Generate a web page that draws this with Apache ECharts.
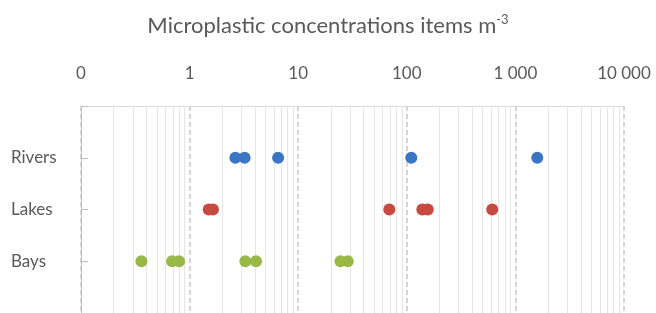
<!DOCTYPE html>
<html>
<head>
<meta charset="utf-8">
<script src="https://cdn.jsdelivr.net/npm/echarts@6/dist/echarts.min.js"></script>
<style>
  html, body { margin: 0; padding: 0; background: #fff; }
  #chart { width: 656px; height: 313px; }
</style>
</head>
<body>
<div id="chart"></div>
<script>
// categories, top to bottom
const categories = ['Rivers', 'Lakes', 'Bays']

// concentrations (items m-3)
const rivers = [2.64, 3.21, 6.53, 110, 1590]
const lakes = [1.5, 1.64, 69, 139, 156, 612]
const bays = [0.36, 0.69, 0.8, 3.26, 4.09, 24.5, 28.6]

// light grid lines between the decades
const minorSteps = [2, 3, 4, 5, 6, 7, 8, 9]
const decades = [0.1, 1, 10, 100, 1000]

const minorLines = []
decades.forEach(d => minorSteps.forEach(s => minorLines.push({ xAxis: +(d * s).toPrecision(3) })))

const toPoints = (vals, row) => vals.map(v => [v, row])

const fmtTick = v => {
  if (v < 1) return '0'
  return String(Math.round(v)).replace(/\B(?=(\d{3})+(?!\d))/g, ' ')
}

const textColor = '#595959'
const font = 'Lato, "Open Sans", sans-serif'

const dot = (name, color, vals, row) => ({
  name,
  type: 'scatter',
  symbolSize: 12,
  z: 5,
  itemStyle: { color, opacity: 1 },
  data: toPoints(vals, row)
})

const chart = echarts.init(document.getElementById('chart'))
chart.setOption({
  animation: false,
  title: {
    text: 'Microplastic concentrations items m{sup|-3}',
    left: 'center',
    top: 8,
    textStyle: {
      fontFamily: font,
      fontSize: 22,
      fontWeight: 'normal',
      color: textColor,
      rich: {
        sup: { fontSize: 13, verticalAlign: 'top', padding: [0, 0, 12, 0], color: textColor, fontFamily: font }
      }
    }
  },
  grid: {
    left: 81,
    right: 32,
    top: 106,
    height: 212
  },
  xAxis: {
    type: 'log',
    logBase: 10,
    position: 'top',
    min: 0.1,
    max: 10000,
    axisLine: { show: true, lineStyle: { color: '#d9d9d9', width: 1 } },
    axisTick: { show: false },
    axisLabel: {
      formatter: fmtTick,
      fontFamily: font,
      fontSize: 17,
      color: textColor,
      margin: 24,
      showMinLabel: true,
      showMaxLabel: true
    },
    splitLine: { show: true, lineStyle: { color: '#c8c8c8', type: [5, 3], width: 1.5 } }
  },
  yAxis: {
    type: 'value',
    inverse: true,
    min: 0,
    max: 4,
    interval: 1,
    axisLine: { show: true, lineStyle: { color: '#bfbfbf' } },
    axisTick: { show: true, inside: true, length: 7, lineStyle: { color: '#bfbfbf' } },
    splitLine: { show: false },
    axisLabel: {
      formatter: v => categories[v - 1] || '',
      align: 'left',
      margin: 70,
      fontFamily: font,
      fontSize: 17,
      color: textColor
    }
  },
  series: [
    {
      type: 'scatter',
      data: [],
      silent: true,
      z: 1,
      markLine: {
        silent: true,
        symbol: 'none',
        label: { show: false },
        lineStyle: { color: '#e6e6e6', type: 'solid', width: 1 },
        data: minorLines
      }
    },
    dot('Rivers', '#3a76c3', rivers, 1),
    dot('Lakes', '#c74a40', lakes, 2),
    dot('Bays', '#98b948', bays, 3)
  ]
})
</script>
</body>
</html>
